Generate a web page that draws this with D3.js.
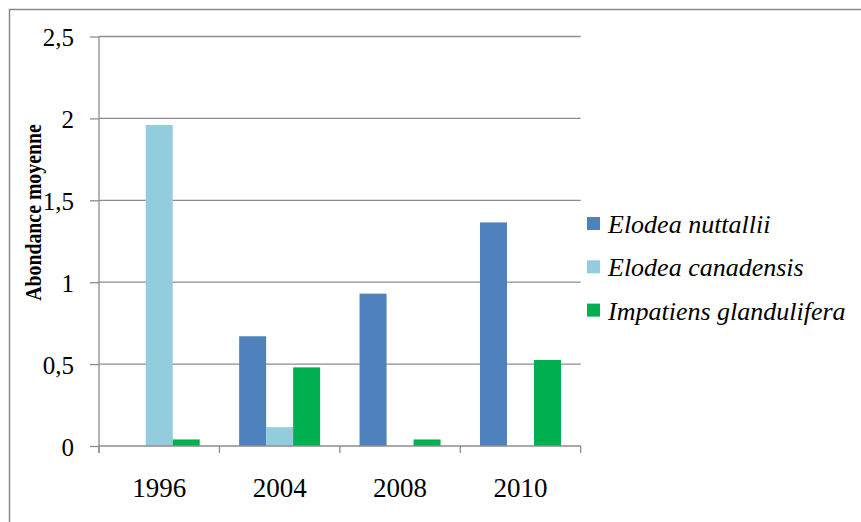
<!DOCTYPE html>
<html lang="fr">
<head>
  <meta charset="UTF-8">
  <title>Abondance moyenne</title>
  <script src="https://d3js.org/d3.v7.min.js"></script>
  <style>
    * { margin: 0; padding: 0; box-sizing: border-box; }
    body { background: #fff; }
    svg { display: block; }
    svg text { font-family: "Liberation Serif", "DejaVu Serif", serif; fill: #000; }
  </style>
</head>
<body>
  <div id="chart"></div>
  <script>
    // donnees
    const years = ["1996", "2004", "2008", "2010"];
    const species = ["Elodea nuttallii", "Elodea canadensis", "Impatiens glandulifera"];
    const nuttallii = [0, 0.67, 0.93, 1.365];
    const canadensis = [1.96, 0.115, 0, 0];
    const impatiens = [0.04, 0.48, 0.04, 0.525];
    const yTicks = [0, 0.5, 1, 1.5, 2, 2.5];
    const colors = ["#4F81BD", "#93CDDD", "#00B050"];

    const W = 861, H = 522;
    const plot = {left: 99, right: 580.7, top: 36.5, bottom: 446};

    const svg = d3.select("#chart").append("svg")
      .attr("width", W).attr("height", H);

    // cadre du graphique
    svg.append("path")
      .attr("d", `M9.5,${H} V9.5 H${W}`)
      .attr("fill", "none")
      .attr("stroke", "#8a8a8a")
      .attr("stroke-width", 1.5);

    const x0 = d3.scaleBand().domain(years).range([plot.left, plot.right]);
    const x1 = d3.scaleBand().domain(species).range([0, x0.bandwidth()])
      .paddingInner(0).paddingOuter(0.73);
    const y = d3.scaleLinear().domain([0, 2.5]).range([plot.bottom, plot.top]);

    // grille horizontale
    svg.append("g")
      .selectAll("line")
      .data(yTicks.filter(d => d > 0))
      .join("line")
      .attr("x1", plot.left).attr("x2", plot.right)
      .attr("y1", d => y(d)).attr("y2", d => y(d))
      .attr("stroke", "#8c8c8c")
      .attr("stroke-width", 1.3);

    // axe Y
    const yAxis = svg.append("g")
      .attr("transform", `translate(${plot.left},0)`)
      .call(d3.axisLeft(y).tickValues(yTicks).tickSize(9).tickSizeOuter(0)
        .tickPadding(16)
        .tickFormat(d => String(d).replace(".", ",")));
    yAxis.attr("font-family", null);
    yAxis.select(".domain").remove();
    yAxis.selectAll("line").attr("stroke", "#8c8c8c").attr("stroke-width", 1.3);
    yAxis.selectAll("text")
      .style("font-size", "25px")
      .attr("dy", "0.36em");
    yAxis.append("line")
      .attr("x1", 0).attr("x2", 0)
      .attr("y1", plot.top).attr("y2", plot.bottom + 7)
      .attr("stroke", "#8c8c8c").attr("stroke-width", 1.3);

    // barres
    const groups = [nuttallii, canadensis, impatiens];
    const bars = [];
    species.forEach((s, i) => {
      years.forEach((yr, j) => {
        if (groups[i][j] > 0) bars.push({species: s, year: yr, value: groups[i][j], c: colors[i]});
      });
    });
    svg.append("g")
      .selectAll("rect")
      .data(bars)
      .join("rect")
      .attr("x", d => x0(d.year) + x1(d.species))
      .attr("y", d => y(d.value))
      .attr("width", x1.bandwidth())
      .attr("height", d => y(0) - y(d.value))
      .attr("fill", d => d.c);

    // axe X
    const xAxis = svg.append("g")
      .attr("transform", `translate(0,${plot.bottom})`);
    xAxis.append("line")
      .attr("x1", plot.left).attr("x2", plot.right)
      .attr("stroke", "#8c8c8c").attr("stroke-width", 1.3);
    const bounds = years.map(d => x0(d)).concat([plot.right]);
    xAxis.selectAll(".tk")
      .data(bounds)
      .join("line")
      .attr("class", "tk")
      .attr("x1", d => d).attr("x2", d => d)
      .attr("y1", 0).attr("y2", 7)
      .attr("stroke", "#8c8c8c").attr("stroke-width", 1.3);
    xAxis.selectAll(".lbl")
      .data(years)
      .join("text")
      .attr("class", "lbl")
      .attr("x", d => x0(d) + x0.bandwidth() / 2)
      .attr("y", 51)
      .attr("text-anchor", "middle")
      .style("font-size", "27px")
      .text(d => d);

    // titre de l'axe Y (glyphes un peu etires comme dans l'original)
    svg.append("text")
      .attr("transform", `translate(41,212.5) rotate(-90) scale(1,1.12)`)
      .attr("text-anchor", "middle")
      .style("font-size", "19.8px")
      .style("font-weight", "bold")
      .text("Abondance moyenne");

    // legende
    const legend = svg.append("g").attr("transform", "translate(587,217)");
    const row = legend.selectAll("g")
      .data(species)
      .join("g")
      .attr("transform", (d, i) => `translate(0,${i * 43.3})`);
    row.append("rect")
      .attr("width", 13).attr("height", 13)
      .attr("fill", (d, i) => colors[i]);
    row.append("text")
      .attr("x", 21).attr("y", 7)
      .attr("dy", "0.35em")
      .style("font-size", "26px")
      .style("font-style", "italic")
      .text(d => d);
  </script>
</body>
</html>
